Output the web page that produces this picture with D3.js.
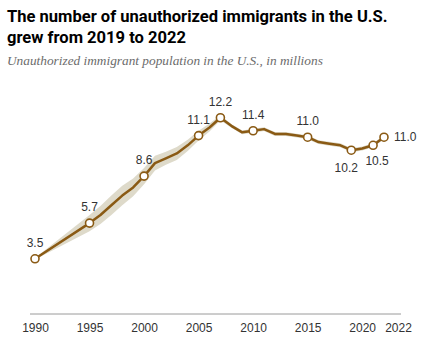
<!DOCTYPE html>
<html>
<head>
<meta charset="utf-8">
<script src="https://cdn.jsdelivr.net/npm/d3@7"></script>
<style>
  html, body { margin: 0; padding: 0; background: #fff; }
  svg { display: block; }
  .title { font-family: "Roboto", "Liberation Sans", sans-serif; font-weight: 700; fill: #000; }
  .subtitle { font-family: "Liberation Serif", "DejaVu Serif", serif; font-style: italic; fill: #6b6b6b; }
  .val { font-family: "Liberation Sans", Arial, sans-serif; font-size: 12px; fill: #333; }
  .x-axis text { font-family: "Liberation Sans", Arial, sans-serif; font-size: 12px; fill: #333; }
</style>
</head>
<body>
<svg id="chart" width="425" height="346"></svg>
<script>
  const years = [1990, 1995, 1996, 1997, 1998, 1999, 2000, 2001, 2002, 2003, 2004, 2005, 2006, 2007,
    2008, 2009, 2010, 2011, 2012, 2013, 2014, 2015, 2016, 2017, 2018, 2019, 2020, 2021, 2022];
  const population = [3.5, 5.7, 6.2, 6.8, 7.4, 7.9, 8.6, 9.4, 9.7, 10.0, 10.5, 11.1, 11.6, 12.2,
    11.7, 11.3, 11.4, 11.5, 11.2, 11.2, 11.1, 11.0, 10.7, 10.6, 10.5, 10.2, 10.3, 10.5, 11.0];
  // margin of error, in millions
  const margin = [0.05, 0.5, 0.55, 0.6, 0.6, 0.55, 0.5, 0.45, 0.4, 0.4, 0.35, 0.3, 0.25, 0.15,
    0.12, 0.12, 0.12, 0.12, 0.12, 0.12, 0.12, 0.12, 0.12, 0.12, 0.12, 0.12, 0.12, 0.12, 0.12];
  const labelYears = [1990, 1995, 2000, 2005, 2007, 2010, 2015, 2019, 2021, 2022];
  const tickYears = [1990, 1995, 2000, 2005, 2010, 2015, 2020, 2022];

  const svg = d3.select('#chart');
  const data = years.map((y, i) => ({ year: y, value: population[i], lo: population[i] - margin[i], hi: population[i] + margin[i] }));

  // titles
  const fitText = (sel, width, size) => {
    sel.style('font-size', size + 'px');
    const w = sel.node().getComputedTextLength();
    sel.style('font-size', (size * width / w).toFixed(2) + 'px');
  };
  const t1 = svg.append('text').attr('class', 'title').attr('x', 7).attr('y', 22)
    .text('The number of unauthorized immigrants in the U.S.');
  fitText(t1, 381, 16);
  svg.append('text').attr('class', 'title').attr('x', 7).attr('y', 43)
    .style('font-size', t1.style('font-size'))
    .text('grew from 2019 to 2022');
  const sub = svg.append('text').attr('class', 'subtitle').attr('x', 7).attr('y', 65)
    .text('Unauthorized immigrant population in the U.S., in millions');
  fitText(sub, 316, 13);

  const x = d3.scaleLinear().domain([1990, 2022]).range([35, 384]);
  const y = d3.scaleLinear().domain([0, 13]).range([315.5, 104.8]);

  // band
  const area = d3.area().x(d => x(d.year)).y0(d => y(d.lo)).y1(d => y(d.hi));
  svg.append('path').datum(data).attr('d', area).attr('fill', '#dedaca');

  // axis
  svg.append('line').attr('x1', 30).attr('x2', 401).attr('y1', y(0) - 1.5).attr('y2', y(0) - 1.5)
    .attr('stroke', '#9a9a9a').attr('stroke-width', 1);
  const xAxis = svg.append('g').attr('class', 'x-axis')
    .attr('transform', `translate(0,${y(0) + 5})`)
    .call(d3.axisBottom(x).tickValues(tickYears).tickFormat(d3.format('d')).tickSize(0));
  xAxis.select('.domain').remove();
  xAxis.selectAll('.tick text').attr('dx', d => d === 2022 ? 14 : 0);

  // line
  const line = d3.line().x(d => x(d.year)).y(d => y(d.value));
  svg.append('path').datum(data).attr('d', line).attr('fill', 'none')
    .attr('stroke', '#8a5a14').attr('stroke-width', 2.5).attr('stroke-linejoin', 'round');

  const labeled = data.filter(d => labelYears.includes(d.year));
  svg.selectAll('circle.pt').data(labeled).enter().append('circle')
    .attr('class', 'pt')
    .attr('cx', d => x(d.year)).attr('cy', d => y(d.value)).attr('r', 4)
    .attr('fill', '#fff').attr('stroke', '#8a5a14').attr('stroke-width', 1.6);

  const placement = { 2019: [-5, 22, 'middle'], 2021: [4, 20, 'middle'], 2022: [10, 4, 'start'] };
  svg.selectAll('text.val').data(labeled).enter().append('text')
    .attr('class', 'val')
    .attr('x', d => x(d.year) + (placement[d.year] ? placement[d.year][0] : 0))
    .attr('y', d => y(d.value) + (placement[d.year] ? placement[d.year][1] : -12))
    .attr('text-anchor', d => placement[d.year] ? placement[d.year][2] : 'middle')
    .text(d => d3.format('.1f')(d.value));
</script>
</body>
</html>
